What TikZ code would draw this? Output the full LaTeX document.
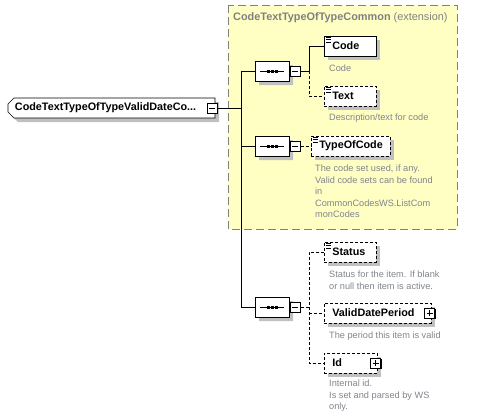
\documentclass[tikz,border=0pt]{standalone}
\usepackage{fontspec}
\setmainfont{Liberation Sans}
\usepackage{xcolor}
\usetikzlibrary{positioning,calc,shapes.misc,shadows}

\definecolor{grpfill}{RGB}{255,255,196}
\definecolor{grpline}{RGB}{128,128,128}
\definecolor{annot}{RGB}{128,132,140}
\definecolor{shade}{RGB}{192,192,192}

\newcommand{\elemfont}{\bfseries\fontsize{10.8}{12}\selectfont}
\newcommand{\annfont}{\fontsize{9.2}{11.4}\selectfont}

\begin{document}
\begin{tikzpicture}[x=1pt,y=-1pt,
	elem/.style={draw, fill=white, line width=0.7pt, minimum height=20pt, inner xsep=8pt, inner ysep=0pt,
		text width=#1, align=left, font=\elemfont, anchor=west,
		drop shadow={shadow xshift=4pt, shadow yshift=-4pt, fill=shade, opacity=1}},
	elem/.default=36pt,
	optl/.style={dash pattern=on 3pt off 2pt},
	seq/.style={draw, fill=white, line width=0.7pt, chamfered rectangle, chamfered rectangle xsep=5pt,
		chamfered rectangle ysep=5pt, minimum width=34pt, minimum height=20pt, inner sep=0pt,
		drop shadow={shadow xshift=4pt, shadow yshift=-4pt, fill=shade, opacity=1}},
	tglbox/.style={draw, fill=white, line width=0.7pt, minimum size=10pt, inner sep=0pt,
		drop shadow={shadow xshift=1pt, shadow yshift=-1pt, fill=black, opacity=1}},
	ann/.style={anchor=north west, inner sep=0pt, align=left, font=\annfont, text=annot},
	wire/.style={line width=0.7pt}
]
	\useasboundingbox (0,0) rectangle (499,418);
	
	% extension group
	\draw[grpline, fill=grpfill, line width=0.8pt, dash pattern=on 8pt off 4pt] (228,5) rectangle (457,229);
	\node[anchor=west, inner sep=0pt, text=grpline, font=\fontsize{10.9}{12}\selectfont] (grptitle) at (233,17.5)
		{\textbf{CodeTextTypeOfTypeCommon} (extension)};
	
	% root element
	\node[draw, fill=white, line width=0.7pt, chamfered rectangle, chamfered rectangle corners={north west,south west},
		chamfered rectangle xsep=3pt, chamfered rectangle ysep=3pt, minimum width=201pt, minimum height=20pt,
		inner xsep=4pt, inner ysep=0pt, text width=193pt, align=left, font=\elemfont,
		drop shadow={shadow xshift=4pt, shadow yshift=-4pt, fill=shade, opacity=1}]
		(root) at (111.5,108) {CodeTextTypeOfTypeValidDateCo...};
	\node[tglbox] (rootm) at (212,108) {};
	\draw[line width=0.8pt] ($(rootm)+(-3,0)$) -- ($(rootm)+(3,0)$);
	
	% sequences
	\node[seq] (seq1) at (272,71) {};
	\node[seq] (seq2) at (272,146) {};
	\node[seq] (seq3) at (272,307) {};
	\foreach \s in {1,2,3} {
		\draw[line width=0.6pt] ($(seq\s.west)+(5,0)$) -- ($(seq\s.east)+(-5,0)$);
		\foreach \d in {-4,0,4} { \fill ($(seq\s)+(\d,0)+(-1.5,-1.5)$) rectangle ++(3,3); }
		\node[tglbox, anchor=west] (m\s) at ($(seq\s.east)+(0.5,0)$) {};
		\draw[line width=0.8pt] ($(m\s)+(-3,0)$) -- ($(m\s)+(3,0)$);
	}
	
	% elements
	\node[elem] (code) at (324,46) {Code};
	\node[elem, optl] (text) at (324,96) {Text};
	\node[elem=63pt, optl] (tcode) at (311,146) {TypeOfCode};
	\node[elem, optl] (status) at (324,252) {Status};
	\node[elem=91pt, optl] (vdp) at (324,313) {ValidDatePeriod};
	\node[elem=37pt, optl] (id) at (324,363) {Id};
	
	% simple content marks
	\foreach \e in {code,text,tcode,status} {
		\foreach \k in {1.6,3.9,6.2} { \draw[line width=0.6pt] ($(\e.north west)+(2,\k)$) -- ++(5,0); }
	}
	
	% expand boxes
	\foreach \e in {vdp,id} {
		\node[tglbox] (\e p) at ($(\e.east)+(-2,0)$) {};
		\draw[line width=0.8pt] ($(\e p)+(-3,0)$) -- ($(\e p)+(3,0)$) ($(\e p)+(0,-3)$) -- ($(\e p)+(0,3)$);
	}
	
	% annotations
	\node[ann] (codeann) at (329,65) {Code};
	\node[ann] (textann) at (329,114) {Description/text for code};
	\node[ann] (tcodeann) at (315,165) {The code set used, if any.\\Valid code sets can be found\\in\\CommonCodesWS.ListCom\\monCodes};
	\node[ann] (statusann) at (329,271) {Status for the item. If blank\\or null then item is active.};
	\node[ann] (vdpann) at (329,332) {The period this item is valid};
	\node[ann] (idann) at (329,380) {Internal id.\\Is set and parsed by WS\\only.};
	
	% connectors
	\coordinate (trk) at (241,0);
	\coordinate (br) at (309,0);
	\draw[wire] (rootm.east) -- (rootm.east -| trk);
	\draw[wire] (seq1.west) -- (seq1.west -| trk) -- (seq3.west -| trk) -- (seq3.west);
	\draw[wire] (seq2.west) -- (seq2.west -| trk);
	
	\draw[wire] (m1.east) -- (m1.east -| br) |- (code.west);
	\draw[wire, optl] (m1.east -| br) |- (text.west);
	\draw[wire, optl] (m2.east) -- (tcode.west);
	\draw[wire, optl] (m3.east) -- (m3.east -| br);
	\draw[wire, optl] (status.west) -| (br |- id.west) -- (id.west);
	\draw[wire, optl] (br |- vdp.west) -- (vdp.west);
\end{tikzpicture}
\end{document}
